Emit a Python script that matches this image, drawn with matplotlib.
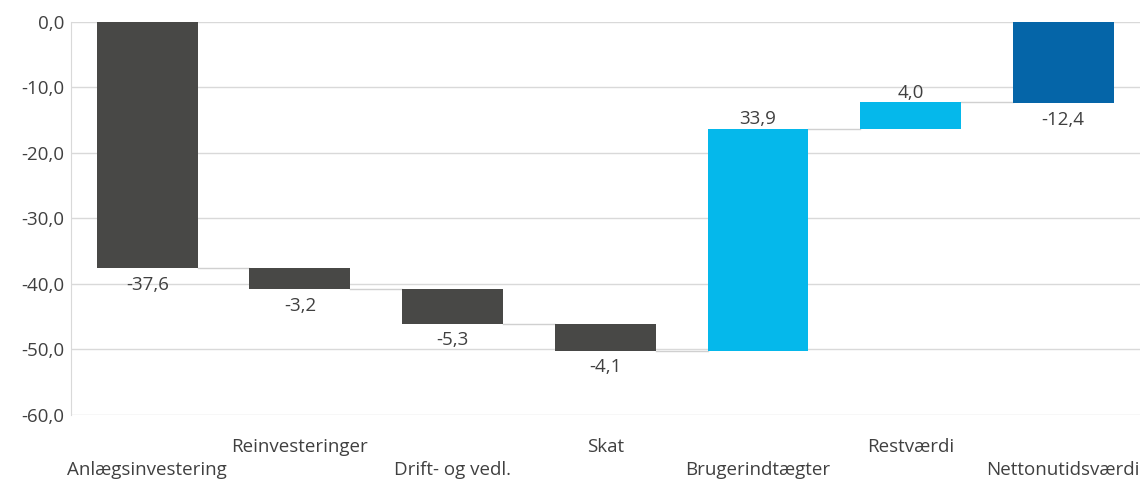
import numpy as np
import matplotlib.pyplot as plt

plt.rcParams['font.family'] = ['Open Sans', 'DejaVu Sans']

categories = ['Anlægsinvestering', 'Reinvesteringer', 'Drift- og vedl.', 'Skat',
              'Brugerindtægter', 'Restværdi', 'Nettonutidsværdi']
changes = [-37.6, -3.2, -5.3, -4.1, 33.9, 4.0]
total = -12.4
value_labels = ['-37,6', '-3,2', '-5,3', '-4,1', '33,9', '4,0', '-12,4']

dark = '#484846'
light = '#05B8EB'
navy = '#0565A8'
txt = '#404040'

# running totals for the floating bars
ends = np.cumsum(changes)
starts = np.concatenate([[0], ends[:-1]])
bottoms = list(starts) + [0]
heights = list(changes) + [total]
colors = [dark if c < 0 else light for c in changes] + [navy]

fig = plt.figure(figsize=(11.43, 4.83), dpi=100)
ax = fig.add_axes([0.062, 0.141, 0.935, 0.814])

x = np.arange(len(categories))
w = 0.66
ax.bar(x, heights, bottom=bottoms, width=w, color=colors, zorder=3)

# connector lines between bars
levels = list(ends)
for i in range(len(levels)):
    ax.plot([x[i] + w / 2, x[i + 1] - w / 2], [levels[i], levels[i]],
            color='#d0d0d0', lw=1, zorder=2)

# value labels
for i in range(len(categories)):
    h = heights[i]
    b = bottoms[i]
    if h < 0:
        ax.annotate(value_labels[i], (x[i], b + h), xytext=(0, -5.5),
                    textcoords='offset points', ha='center', va='top',
                    fontsize=13.5, color=txt)
    else:
        ax.annotate(value_labels[i], (x[i], b + h), xytext=(0, 0.5),
                    textcoords='offset points', ha='center', va='bottom',
                    fontsize=13.5, color=txt)

ax.set_ylim(-60, 0)
ax.set_xlim(-0.5, len(categories) - 0.5)
yt = np.arange(-60, 1, 10)
ax.set_yticks(yt)
ax.set_yticklabels([f'{v:.1f}'.replace('.', ',') for v in yt], fontsize=13.5, color=txt)
ax.yaxis.grid(True, color='#d9d9d9', lw=1, zorder=0)
ax.tick_params(axis='y', length=0, pad=5)

ax.set_xticks(x)
ax.set_xticklabels([])
ax.tick_params(axis='x', length=0)
for i, c in enumerate(categories):
    off = 0.081 if i % 2 == 1 else 0.14
    ax.text(x[i], -off, c, transform=ax.get_xaxis_transform(), ha='center',
            va='center', fontsize=13.5, color=txt)

for s in ['top', 'right', 'bottom']:
    ax.spines[s].set_visible(False)
ax.spines['left'].set_color('#d9d9d9')

fig.savefig('out.png', dpi=100)
